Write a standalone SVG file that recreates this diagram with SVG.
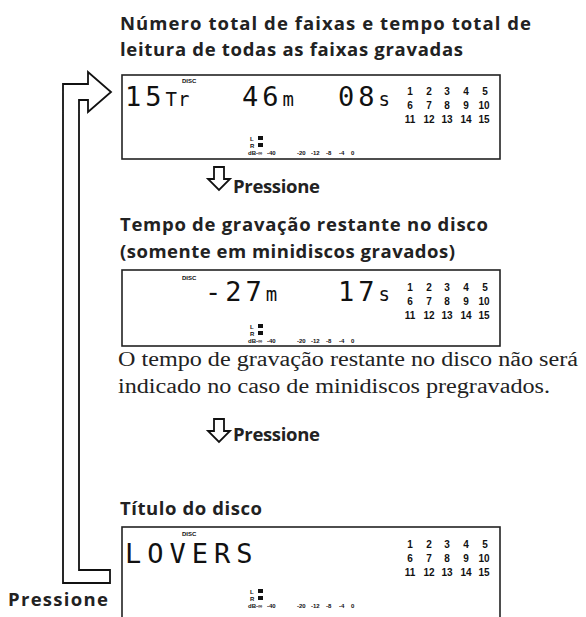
<svg xmlns="http://www.w3.org/2000/svg" width="586" height="617" viewBox="0 0 586 617">
<style>
.t{font-family:"Open Sans","Liberation Sans",sans-serif;font-weight:700;font-size:18.5px;fill:#222}
.s{font-family:"Liberation Serif","Times New Roman",serif;font-size:20px;fill:#222}
.p{fill:#fff;stroke:#222;stroke-width:1.6}
.lcd{font-family:"DejaVu Sans Mono",monospace;fill:#111}
.big{font-size:27px;letter-spacing:4px}
.sm{font-size:19px;letter-spacing:1px}
.n{font-family:"Liberation Sans",Arial,sans-serif;font-weight:bold;font-size:10px;fill:#111;text-anchor:middle}
.tiny{font-family:"Liberation Sans",Arial,sans-serif;font-weight:bold;font-size:6px;fill:#111}
.ar{fill:#fff;stroke:#111;stroke-width:1.8;stroke-linejoin:miter}
</style>
<defs>
<g id="grid">
<text class="n" x="410" y="0">1</text><text class="n" x="429" y="0">2</text><text class="n" x="447" y="0">3</text><text class="n" x="466" y="0">4</text><text class="n" x="485" y="0">5</text>
<text class="n" x="410" y="14">6</text><text class="n" x="429" y="14">7</text><text class="n" x="447" y="14">8</text><text class="n" x="466" y="14">9</text><text class="n" x="484" y="14">10</text>
<text class="n" x="410" y="28">11</text><text class="n" x="429" y="28">12</text><text class="n" x="447" y="28">13</text><text class="n" x="466" y="28">14</text><text class="n" x="484" y="28">15</text>
</g>
<g id="meter">
<text class="tiny" x="0" y="0">L</text>
<text class="tiny" x="0" y="7">R</text>
<text class="tiny" x="-2" y="14">dB</text>
<rect x="8" y="-5" width="5" height="4" fill="#111"/>
<rect x="8" y="2" width="5" height="4" fill="#111"/>
<text class="tiny" x="6" y="14">-∞</text>
<text class="tiny" x="17" y="14">-40</text>
<text class="tiny" x="47" y="14">-20</text>
<text class="tiny" x="61" y="14">-12</text>
<text class="tiny" x="76" y="14">-8</text>
<text class="tiny" x="89" y="14">-4</text>
<text class="tiny" x="101" y="14">0</text>
</g>
<path id="darr" class="ar" d="M-5,0 H5 V12 H11 L0,23 L-11,12 H-5 Z"/>
</defs>

<g id="title1">
<text class="t" x="120" y="30" textLength="411">Número total de faixas e tempo total de</text>
<text class="t" x="120" y="56" textLength="343">leitura de todas as faixas gravadas</text>
</g>

<g id="panel1">
<rect class="p" x="122" y="75" width="378" height="84"/>
<text class="tiny" x="182" y="83">DISC</text>
<text class="lcd" y="106"><tspan class="big" x="125">15</tspan><tspan class="sm">Tr</tspan></text>
<text class="lcd" y="106"><tspan class="big" x="242">46</tspan><tspan class="sm">m</tspan></text>
<text class="lcd" y="106"><tspan class="big" x="338">08</tspan><tspan class="sm">s</tspan></text>
<use href="#grid" y="95"/>
<use href="#meter" x="250" y="141"/>
</g>

<g id="press1">
<use href="#darr" x="219" y="167"/>
<text class="t" x="233" y="193" textLength="87">Pressione</text>
</g>

<g id="title2">
<text class="t" x="120" y="231" textLength="368">Tempo de gravação restante no disco</text>
<text class="t" x="120" y="258" textLength="335">(somente em minidiscos gravados)</text>
</g>

<g id="panel2">
<rect class="p" x="122" y="270" width="378" height="76"/>
<text class="tiny" x="182" y="280">DISC</text>
<text class="lcd" y="301"><tspan class="big" x="205" letter-spacing="7">-27</tspan><tspan class="sm">m</tspan></text>
<text class="lcd" y="301"><tspan class="big" x="338">17</tspan><tspan class="sm">s</tspan></text>
<use href="#grid" y="291"/>
<use href="#meter" x="250" y="329"/>
</g>

<g id="note">
<text class="s" x="118" y="366" textLength="460" lengthAdjust="spacingAndGlyphs">O tempo de gravação restante no disco não será</text>
<text class="s" x="118" y="393" textLength="432" lengthAdjust="spacingAndGlyphs">indicado no caso de minidiscos pregravados.</text>
</g>

<g id="press2">
<use href="#darr" x="219" y="419"/>
<text class="t" x="233" y="441" textLength="87">Pressione</text>
</g>

<g id="title3">
<text class="t" x="120" y="515" textLength="142">Título do disco</text>
</g>

<g id="panel3">
<rect class="p" x="122" y="527" width="378" height="100"/>
<text class="tiny" x="182" y="536">DISC</text>
<text class="lcd" x="125" y="563" font-size="27" letter-spacing="6">LOVERS</text>
<use href="#grid" y="548"/>
<use href="#meter" x="250" y="594"/>
</g>

<g id="connectors">
<path class="ar" d="M63,583 V84 H88 V72 L111,92 L88,112 V100 H79 V570 H110 V583 Z"/>
<text class="t" x="8" y="606" textLength="100">Pressione</text>
</g>
</svg>
